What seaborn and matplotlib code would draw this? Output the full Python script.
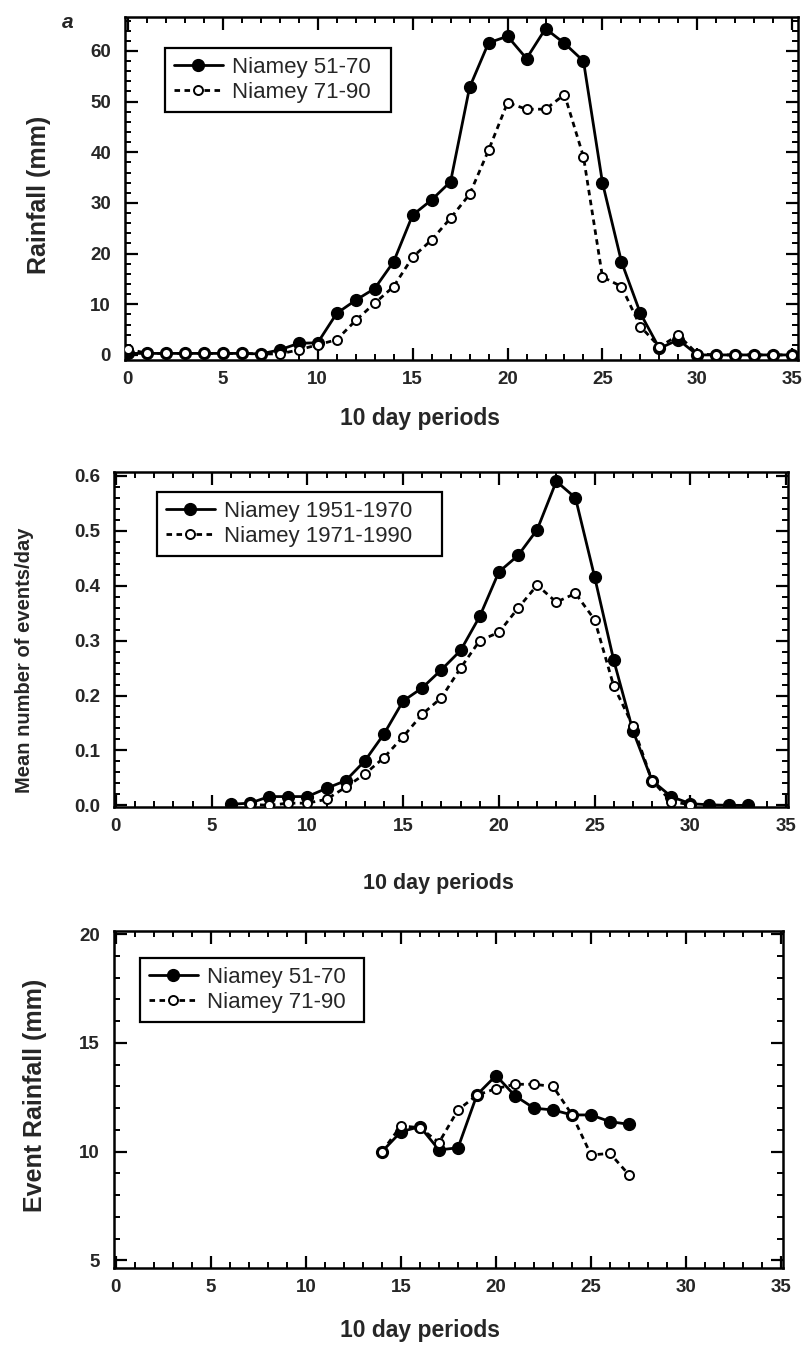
import matplotlib
matplotlib.use("Agg")
import matplotlib.pyplot as plt
from matplotlib import font_manager
from matplotlib.ticker import MultipleLocator, FormatStrFormatter
import pandas as pd
import seaborn as sns

# ---- data: 10-day period (dekad) statistics at Niamey ----
rain_x = list(range(36))
rain_5170 = [0.3, 0.3, 0.3, 0.3, 0.3, 0.3, 0.3, 0.2, 1.0, 2.3, 2.4, 8.2,
             10.8, 13.1, 18.4, 27.6, 30.6, 34.2, 52.8, 61.6, 62.9, 58.5,
             64.4, 61.5, 58.0, 34.0, 18.4, 8.2, 1.3, 3.0, 0.0, 0.0, 0.0,
             0.0, 0.0, 0.0]
rain_7190 = [1.2, 0.3, 0.3, 0.3, 0.3, 0.3, 0.3, 0.2, 0.2, 1.0, 2.0, 3.0,
             6.8, 10.2, 13.5, 19.3, 22.7, 27.0, 31.7, 40.4, 49.8, 48.5,
             48.5, 51.4, 39.1, 15.4, 13.5, 5.6, 1.6, 3.9, 0.2, 0.0, 0.0,
             0.0, 0.0, 0.0]

ev_x_5170 = list(range(6, 34))
ev_5170 = [0.002, 0.004, 0.016, 0.016, 0.016, 0.031, 0.045, 0.081, 0.130,
           0.190, 0.214, 0.247, 0.282, 0.344, 0.425, 0.455, 0.502, 0.590,
           0.560, 0.416, 0.264, 0.136, 0.045, 0.016, 0.003, 0.001, 0.0, 0.0]
ev_x_7190 = list(range(7, 31))
ev_7190 = [0.002, 0.0, 0.004, 0.004, 0.011, 0.033, 0.057, 0.087, 0.125,
           0.166, 0.196, 0.250, 0.300, 0.315, 0.359, 0.401, 0.370, 0.386,
           0.338, 0.217, 0.145, 0.045, 0.007, 0.001]

evr_x = list(range(14, 28))
evr_5170 = [10.0, 10.92, 11.15, 10.08, 10.18, 12.62, 13.5, 12.57, 12.0,
            11.92, 11.69, 11.69, 11.38, 11.26]
evr_7190 = [10.0, 11.19, 11.1, 10.42, 11.92, 12.6, 12.9, 13.1, 13.1, 13.0,
            11.7, 9.85, 9.92, 8.93]

labels_top = ["Niamey 51-70", "Niamey 71-90"]
labels_mid = ["Niamey 1951-1970", "Niamey 1971-1990"]
labels_bot = ["Niamey 51-70", "Niamey 71-90"]

# ---- style ----
sns.set_theme(style="ticks")
avail = {f.name for f in font_manager.fontManager.ttflist}
base = "Liberation Sans" if "Liberation Sans" in avail else "DejaVu Sans"
narrow = "Liberation Sans Narrow" if "Liberation Sans Narrow" in avail else base
plt.rcParams["font.family"] = [base, "DejaVu Sans"]
plt.rcParams["font.weight"] = "bold"
plt.rcParams["axes.linewidth"] = 1.8

W, H = 805, 1351
fig = plt.figure(figsize=(W / 100, H / 100), dpi=100)


def px_axes(left, right, top, bottom):
    return fig.add_axes([left / W, 1 - bottom / H, (right - left) / W,
                         (bottom - top) / H])


def draw_pair(ax, x1, y1, x2, y2, labels):
    d1 = pd.DataFrame({"period": x1, "value": y1})
    d2 = pd.DataFrame({"period": x2, "value": y2})
    sns.lineplot(data=d1, x="period", y="value", ax=ax, color="black",
                 linewidth=2.0, marker="o", markersize=8.5,
                 markerfacecolor="black", markeredgecolor="black",
                 markeredgewidth=1.0, errorbar=None, label=labels[0],
                 zorder=3)
    sns.lineplot(data=d2, x="period", y="value", ax=ax, color="black",
                 linewidth=2.0, linestyle=(0, (2.0, 1.6)), marker="o",
                 markersize=6.5, markerfacecolor="white",
                 markeredgecolor="black", markeredgewidth=1.4,
                 errorbar=None, label=labels[1], zorder=4)


def style_axes(ax, ymaj, ymin):
    ax.xaxis.set_major_locator(MultipleLocator(5))
    ax.xaxis.set_minor_locator(MultipleLocator(1))
    ax.yaxis.set_major_locator(MultipleLocator(ymaj))
    ax.yaxis.set_minor_locator(MultipleLocator(ymin))
    ax.tick_params(which="both", direction="in", top=True, right=True,
                   color="black")
    ax.tick_params(which="major", length=9, width=1.6, labelsize=13.5)
    ax.tick_params(which="minor", length=4, width=1.4)
    ax.tick_params(axis="y", which="major", pad=10)
    ax.tick_params(axis="x", which="major", pad=8)
    for s in ax.spines.values():
        s.set_color("black")
        s.set_linewidth(1.8)
    ax.set_xlabel("")
    ax.set_ylabel("")


def add_legend(ax, x0, x1, y):
    leg = ax.legend(loc="upper left",
                    bbox_to_anchor=(x0 / W, 1 - y / H, (x1 - x0) / W, 0.001),
                    bbox_transform=fig.transFigure, borderaxespad=0,
                    mode="expand", frameon=True, fancybox=False,
                    framealpha=1, edgecolor="black", handlelength=2.2,
                    handletextpad=0.4, borderpad=0.4, labelspacing=0.2,
                    prop={"family": [narrow, "DejaVu Sans"], "size": 16,
                          "weight": "normal"})
    leg.get_frame().set_linewidth(1.6)


# ---- panel 1: dekad rainfall ----
ax1 = px_axes(125, 798, 17, 360)
draw_pair(ax1, rain_x, rain_5170, rain_x, rain_7190, labels_top)
style_axes(ax1, 10, 2)
ax1.set_xlim(-0.15, 35.3)
ax1.set_ylim(-1.0, 66.7)
add_legend(ax1, 165, 391, 49)
fig.text(39 / W, 1 - 195 / H, "Rainfall (mm)", rotation=90, ha="center",
         va="center", fontsize=18)
fig.text(420 / W, 1 - 418 / H, "10 day periods", ha="center", va="center",
         fontsize=16.5)
fig.text(68 / W, 1 - 22 / H, "a", ha="center", va="center", fontsize=15,
         fontstyle="italic")

# ---- panel 2: mean number of rain events per day ----
ax2 = px_axes(114, 788, 472, 807)
draw_pair(ax2, ev_x_5170, ev_5170, ev_x_7190, ev_7190, labels_mid)
style_axes(ax2, 0.1, 0.02)
ax2.set_xlim(-0.1, 35.1)
ax2.set_ylim(-0.003, 0.607)
ax2.yaxis.set_major_formatter(FormatStrFormatter("%.1f"))
add_legend(ax2, 157, 442, 493)
fig.text(25 / W, 1 - 660 / H, "Mean number of events/day", rotation=90,
         ha="center", va="center", fontsize=14.5)
fig.text(438 / W, 1 - 884 / H, "10 day periods", ha="center", va="center",
         fontsize=15.5)

# ---- panel 3: mean rainfall per event ----
ax3 = px_axes(114, 783, 931, 1268)
draw_pair(ax3, evr_x, evr_5170, evr_x, evr_7190, labels_bot)
style_axes(ax3, 5, 1)
ax3.set_xlim(-0.1, 35.1)
ax3.set_ylim(4.65, 20.15)
add_legend(ax3, 140, 364, 959)
fig.text(35 / W, 1 - 1095 / H, "Event Rainfall (mm)", rotation=90,
         ha="center", va="center", fontsize=18)
fig.text(420 / W, 1 - 1330 / H, "10 day periods", ha="center", va="center",
         fontsize=16.5)

fig.savefig("out.png", dpi=100, facecolor="white")
